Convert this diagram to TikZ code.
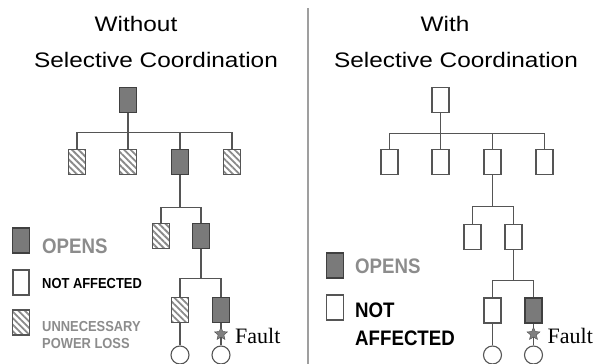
\documentclass[tikz,border=0pt]{standalone}
\usepackage{fontspec}
\setmainfont{Liberation Sans}
\newfontfamily\titlefont{Liberation Sans}[FakeStretch=1.16]
\newfontfamily\legendfont{Liberation Sans}[FakeStretch=0.89]
\newfontfamily\faultfont{Liberation Serif}
\usetikzlibrary{shapes.geometric,patterns.meta}
\definecolor{wiregray}{HTML}{555555}
\definecolor{opengray}{HTML}{7A7A7A}
\definecolor{textgray}{HTML}{8C8C8C}
\definecolor{hatchgray}{HTML}{8A8A8A}
\begin{document}
\begin{tikzpicture}[
    x=1pt, y=-1pt,
    brk/.style={rectangle, draw=wiregray, line width=1.3pt, minimum width=17pt, minimum height=25pt, inner sep=0pt},
    opens/.style={brk, draw=black!75, fill=opengray},
    hatched/.style={brk, pattern={Lines[angle=-45, distance=4.6pt, line width=1.8pt]}, pattern color=hatchgray},
    keybox/.style={brk, minimum width=16pt},
    load/.style={circle, draw=wiregray, line width=1.1pt, minimum size=18pt, inner sep=0pt},
    fault/.style={star, star points=5, star point ratio=2.2, draw=black!70, fill=gray, minimum size=13.5pt, inner sep=0pt},
    wire/.style={draw=wiregray, line width=1.2pt},
    title/.style={font=\titlefont\fontsize{21}{25}\selectfont, inner sep=0pt, anchor=base},
    key/.style={font=\legendfont\bfseries\fontsize{21}{25}\selectfont, inner sep=0pt, anchor=base west},
    smallkey/.style={key, font=\legendfont\bfseries\fontsize{14.5}{16}\selectfont}
]
\useasboundingbox (0,0) rectangle (598,364);

% Titles
\node[title] (wotitle) at (136,31) {Without};
\node[title] (wosub) at (156,67) {Selective Coordination};
\node[title] (wtitle) at (445,31) {With};
\node[title] (wsub) at (456,67) {Selective Coordination};

% Divider
\draw[gray!75, line width=1.5pt] (308,8) -- (308,364);

% Left tree: without coordination
\node[opens] (omain) at (128,100) {};
\node[hatched] (of1) at (77,162) {};
\node[hatched] (of2) at (128,162) {};
\node[opens] (of3) at (180,162) {};
\node[hatched] (of4) at (232,162) {};
\node[hatched] (ob1) at (161,236) {};
\node[opens] (ob2) at (201,236) {};
\node[hatched] (oc1) at (180,310) {};
\node[opens] (oc2) at (221,310) {};
\node[load] (ol1) at (180,355) {};
\node[load] (ol2) at (221,355) {};

\foreach \c in {of1,of2,of3,of4}
    \draw[wire] (omain.south) -- ++(0,19.5) -| (\c.north);
\foreach \c in {ob1,ob2}
    \draw[wire] (of3.south) -- ++(0,32) -| (\c.north);
\foreach \c in {oc1,oc2}
    \draw[wire] (ob2.south) -- ++(0,29) -| (\c.north);
\draw[wire] (oc1.south) -- (ol1.north);
\draw[wire] (oc2.south) -- (ol2.north);
\node[fault] (ostar) at (221,334) {};
\node[font=\faultfont\fontsize{22}{26}\selectfont, inner sep=0pt, anchor=base west] (ofault) at (235,343) {Fault};

% Right tree: with coordination
\begin{scope}[xshift=312.5]
\node[brk] (smain) at (128,100) {};
\node[brk] (sf1) at (77,162) {};
\node[brk] (sf2) at (128,162) {};
\node[brk] (sf3) at (180,162) {};
\node[brk] (sf4) at (232,162) {};
\node[brk] (sb1) at (160,237) {};
\node[brk] (sb2) at (201,237) {};
\node[brk] (sc1) at (180,310.5) {};
\node[opens] (sc2) at (221,310.5) {};
\node[load] (sl1) at (180,355) {};
\node[load] (sl2) at (221,355) {};

\foreach \c in {sf1,sf2,sf3,sf4}
    \draw[wire] (smain.south) -- ++(0,20) -| (\c.north);
\foreach \c in {sb1,sb2}
    \draw[wire] (sf3.south) -- ++(0,31) -| (\c.north);
\foreach \c in {sc1,sc2}
    \draw[wire] (sb2.south) -- ++(0,30) -| (\c.north);
\draw[wire] (sc1.south) -- (sl1.north);
\draw[wire] (sc2.south) -- (sl2.north);
\node[fault] (sstar) at (221,334) {};
\node[font=\faultfont\fontsize{22}{26}\selectfont, inner sep=0pt, anchor=base west] (sfault) at (235,343) {Fault};
\end{scope}

% Legend, left
\node[keybox, opens] (okopen) at (21,240.5) {};
\node[keybox] (okclear) at (21,282.5) {};
\node[keybox, hatched] (okloss) at (21,322.5) {};
\node[key, text=textgray] (oopen) at (42,253) {OPENS};
\node[smallkey] (oclear) at (42,288) {NOT AFFECTED};
\node[smallkey, text=textgray] (oloss) at (42,331) {UNNECESSARY};
\node[smallkey, text=textgray] (oloss2) at (42,348) {POWER LOSS};

% Legend, right
\node[keybox, opens, minimum width=17pt] (skopen) at (335,265.5) {};
\node[keybox, minimum width=17pt] (skclear) at (335,307.5) {};
\node[key, text=textgray] (sopen) at (355,273) {OPENS};
\node[key] (sclear) at (355,317) {NOT};
\node[key] (sclear2) at (355,345) {AFFECTED};

\end{tikzpicture}
\end{document}
